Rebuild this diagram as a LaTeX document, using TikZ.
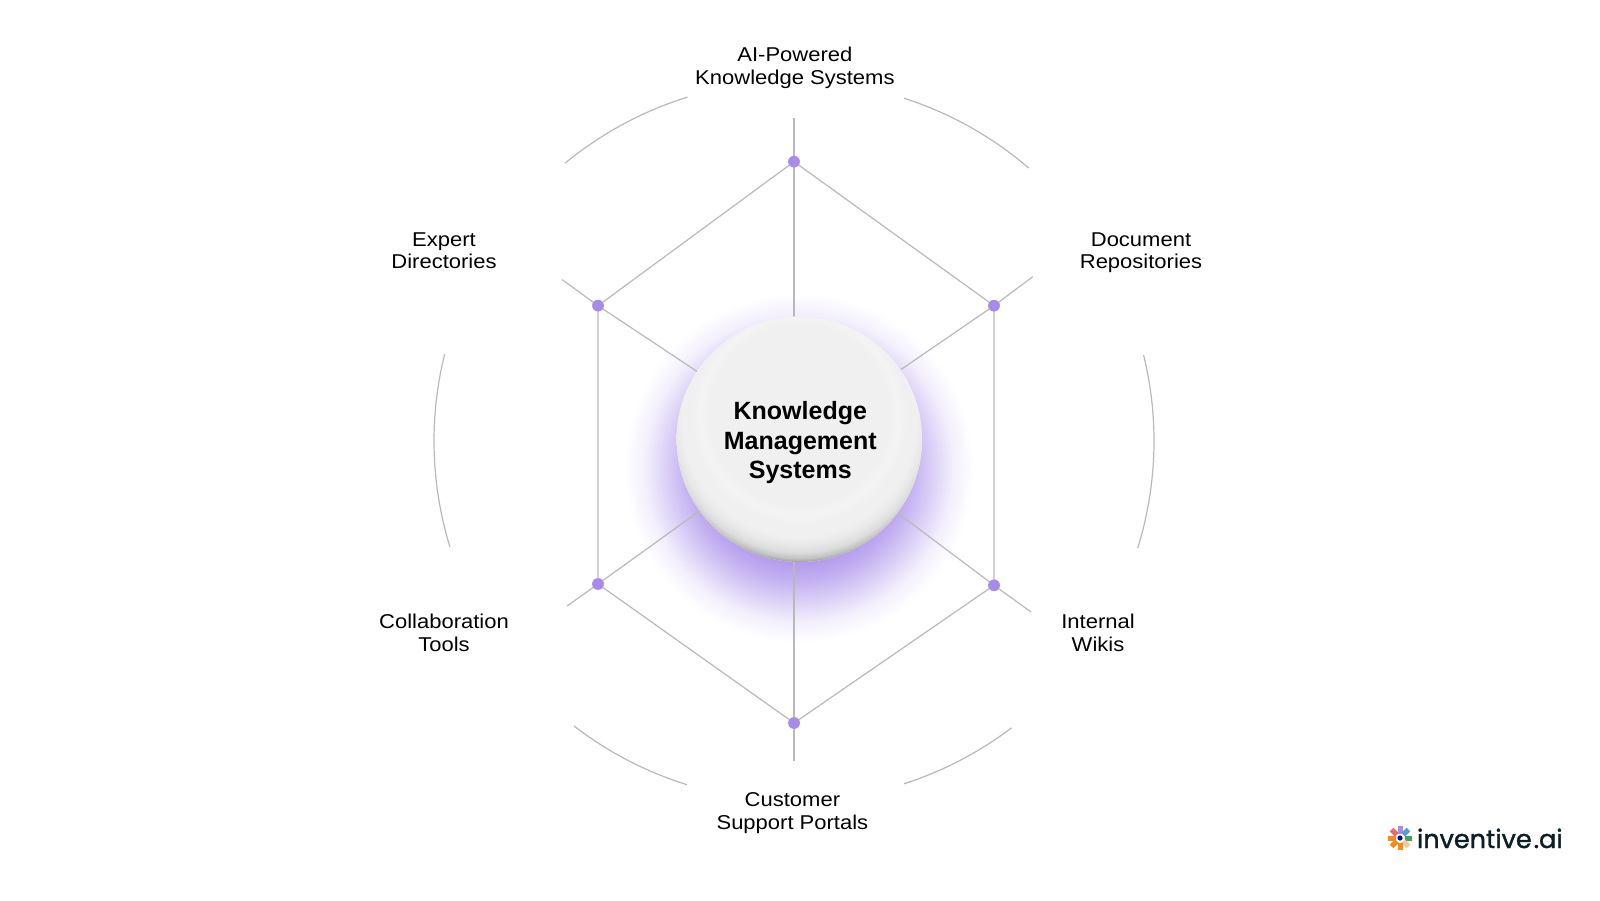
\documentclass[tikz,border=0pt]{standalone}
\usepackage{fontspec}
\setmainfont{Liberation Sans}
\newfontfamily\topicfont[FakeStretch=1.1]{Liberation Sans}
\newfontfamily\logofont[FakeBold=1.4]{Poppins}
\definecolor{spokegray}{HTML}{B9B9B9}
\definecolor{dotpurple}{HTML}{A78BEA}
\definecolor{glowpurple}{HTML}{B39CED}
\definecolor{logoink}{HTML}{0B1F2A}
\pgfdeclareradialshading{glowshade}{\pgfpoint{0bp}{0bp}}{color(0bp)=(glowpurple); color(13.5bp)=(glowpurple); color(16bp)=(glowpurple!80!white); color(19bp)=(glowpurple!48!white); color(22bp)=(glowpurple!16!white); color(25bp)=(white); color(50bp)=(white)}
\pgfdeclareradialshading{discshade}{\pgfpoint{0bp}{8bp}}{color(0bp)=(black!6); color(18.3bp)=(black!6); color(20.2bp)=(black!4.5); color(22bp)=(black!6); color(24bp)=(black!6); color(25.5bp)=(black!9); color(26.8bp)=(black!14); color(27.8bp)=(black!24); color(28.4bp)=(black!36); color(50bp)=(black!40)}
\begin{document}
\begin{tikzpicture}[x=1pt,y=1pt,inner sep=0pt,outer sep=0pt,
spoke/.style={draw=spokegray,line width=1.2pt},
dotmark/.style={circle,fill=dotpurple,minimum size=11.5pt},
topic/.style={align=center,font=\topicfont\fontsize{20}{22.5}\selectfont,text=black},
hubdisc/.style={circle,minimum size=245.4pt,shading=discshade},
hubtext/.style={align=center,font=\fontsize{25}{29.5}\selectfont\bfseries,text=black}]
\useasboundingbox (0,0) rectangle (1600,900);
\fill[white] (0,0) rectangle (1600,900);
\shade[shading=glowshade] (799,432) circle (175);
\coordinate (hub) at (799.3,460.7);
\draw (794,738.3) node[dotmark] (dotA) {};
\draw (994,594.3) node[dotmark] (dotB) {};
\draw (994,314.7) node[dotmark] (dotC) {};
\draw (794,177) node[dotmark] (dotD) {};
\draw (598,316) node[dotmark] (dotE) {};
\draw (598,594.3) node[dotmark] (dotF) {};
\coordinate (outA) at (794,782);
\coordinate (outB) at (1032.7,623.3);
\coordinate (outC) at (1031,288);
\coordinate (outD) at (794,139);
\coordinate (outE) at (567,294);
\coordinate (outF) at (562,620.4);
\draw[spoke] (outA) -- (dotA.center) -- (dotA |- hub);
\draw[spoke] (outD) -- (dotD.center) -- (dotD |- hub);
\foreach \n in {B,C,E,F}
  \draw[spoke] (out\n) -- (dot\n.center) -- (hub);
\draw[spoke] (dotA.center) -- (dotB.center) -- (dotC.center) -- (dotD.center) -- (dotE.center) -- (dotF.center) -- cycle;
\foreach \n in {A,B,C,D,E,F}
  \fill[dotpurple] (dot\n) circle (5.75);
\foreach \start/\stop in {72.2/49.3,107.2/129.5,166/197.1,232.3/252.7,287.8/307.2,13.8/-17.3}
  \draw[spoke] (794,459) ++(\start:360) arc (\start:\stop:360);
\fill[black!6] (hub) circle (122.7);
\draw (hub) node[hubdisc] (disc) {};
\draw (800.3,457.2) node[hubtext] (disctext) {Knowledge\\Management\\Systems};
\draw (794.9,832) node[topic] (topicA) {AI-Powered\\Knowledge Systems};
\draw (1141,647.5) node[topic] (topicB) {Document\\Repositories};
\draw (1098,267) node[topic] (topicC) {Internal\\Wikis};
\draw (792.4,86.8) node[topic] (topicD) {Customer\\Support Portals};
\draw (444,267) node[topic] (topicE) {Collaboration\\Tools};
\draw (444,649.5) node[topic] (topicF) {Expert\\Directories};
\foreach \ang/\col in {90/A98BE8,45/5B9BD5,0/3DA35D,-45/F5C6A0,-90/F58A1F,-135/F58A1F,180/F58A1F,135/EE6A6A}{
  \definecolor{petal}{HTML}{\col}
  \fill[petal,rotate around={\ang:(1400,62)}] (1404.5,59.5) rectangle (1412,64.5);
}
\fill[logoink!70!blue] (1400,62) circle (2.6);
\draw (1417,52) node[anchor=base west,font=\logofont\fontsize{25.5}{26}\selectfont,text=logoink] (logo) {inventive\hspace{2pt}.ai};
\end{tikzpicture}
\end{document}
